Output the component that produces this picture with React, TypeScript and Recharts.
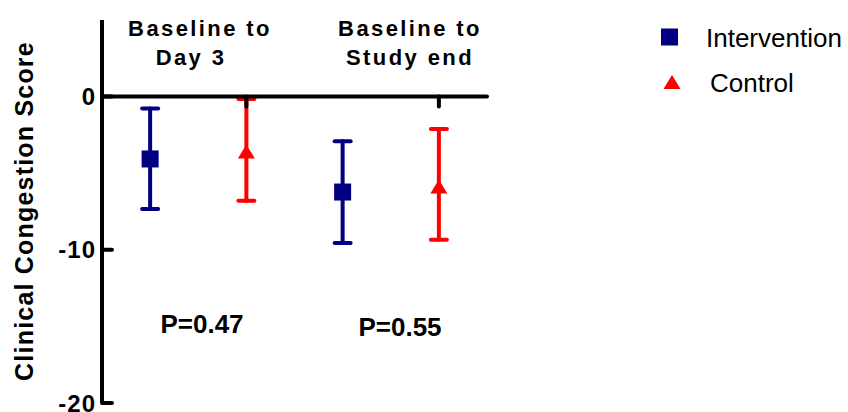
import React from 'react';
import { ScatterChart, Scatter, XAxis, YAxis, ErrorBar, ReferenceLine, Legend } from 'recharts';

const groupTitles = [
  ['Baseline to', 'Day 3'],
  ['Baseline to', 'Study end'],
];
const pValues = ['P=0.47', 'P=0.55'];
const seriesNames = ['Intervention', 'Control'];

// mean and error bar ends
const interventionMean = [-4.07, -6.23];
const interventionLow = [-7.34, -9.56];
const interventionHigh = [-0.78, -2.92];

const controlMean = [-3.58, -5.86];
const controlLow = [-6.8, -9.35];
const controlHigh = [-0.15, -2.11];

const yTicks = [-20, -10, 0];

const FONT = 'Arial, "Liberation Sans", Helvetica, sans-serif';
const NAVY = '#000080';
const RED = '#ff0000';

// each group takes two slots on the x scale: intervention, then control
const toRows = (mean: number[], low: number[], high: number[], slot: number) =>
  mean.map((m, i) => ({ x: i * 2 + slot + 0.5, y: m, err: [m - low[i], high[i] - m] }));

const interventionRows = toRows(interventionMean, interventionLow, interventionHigh, 0);
const controlRows = toRows(controlMean, controlLow, controlHigh, 1);
const axisTickSlots = groupTitles.map((_, i) => i * 2 + 1.5);

const SquareDot = (props: any) => {
  const { cx, cy } = props;
  if (cx == null || cy == null) return null;
  return <rect x={cx - 8.5} y={cy - 8.5} width={17} height={17} fill={NAVY} />;
};

const TriangleDot = (props: any) => {
  const { cx, cy } = props;
  if (cx == null || cy == null) return null;
  return <path d={`M${cx},${cy - 7} L${cx + 8.5},${cy + 7} L${cx - 8.5},${cy + 7} Z`} fill={RED} />;
};

const YTick = (props: any) => {
  const { x, y, payload } = props;
  return (
    <g>
      <text
        x={x}
        y={y}
        dy="0.36em"
        textAnchor="end"
        fontFamily={FONT}
        fontWeight="bold"
        fontSize={24}
        letterSpacing={1}
        fill="#000"
      >
        {payload.value}
      </text>
      <line x1={x + 6} y1={y} x2={x + 16} y2={y} stroke="#000" strokeWidth={4} strokeLinecap="round" />
    </g>
  );
};

const renderLegend = (props: any) => {
  const items = [...(props.payload || [])].sort(
    (a: any, b: any) => seriesNames.indexOf(a.value) - seriesNames.indexOf(b.value)
  );
  return (
    <svg width={208} height={100}>
      {items.map((entry: any, i: number) => {
        const cy = 27 + i * 45;
        const icon =
          entry.type === 'triangle' ? (
            <path d={`M32,${cy - 7} L40.5,${cy + 7} L23.5,${cy + 7} Z`} fill={entry.color} />
          ) : (
            <rect x={21} y={cy - 8.5} width={17} height={17} fill={entry.color} />
          );
        return (
          <g key={entry.value}>
            {icon}
            <text x={i === 0 ? 66 : 70} y={cy + 10} fontFamily={FONT} fontSize={26} fill="#000">
              {entry.value}
            </text>
          </g>
        );
      })}
    </svg>
  );
};

const titleStyle = {
  fontFamily: FONT,
  fontWeight: 'bold' as const,
  fontSize: 22,
  letterSpacing: 2.4,
  fill: '#000',
};

export default function App() {
  return (
    <div style={{ position: 'absolute', left: 0, top: 0, width: 848, height: 412, background: '#fff' }}>
      <ScatterChart width={848} height={412} margin={{ top: 20, right: 361, bottom: 9, left: 0 }}>
        <XAxis type="number" dataKey="x" domain={[0, 4]} hide />
        <YAxis
          type="number"
          dataKey="y"
          domain={[-20, 5]}
          ticks={yTicks}
          width={102}
          axisLine={{ stroke: '#000', strokeWidth: 4 }}
          tickLine={false}
          tickSize={0}
          tickMargin={6}
          tick={<YTick />}
          allowDataOverflow
        />
        <Scatter
          name={seriesNames[0]}
          data={interventionRows}
          fill={NAVY}
          legendType="square"
          shape={<SquareDot />}
          isAnimationActive={false}
        >
          <ErrorBar dataKey="err" direction="y" width={8} stroke={NAVY} strokeWidth={4} strokeLinecap="round" />
        </Scatter>
        <Scatter
          name={seriesNames[1]}
          data={controlRows}
          fill={RED}
          legendType="triangle"
          shape={<TriangleDot />}
          isAnimationActive={false}
        >
          <ErrorBar dataKey="err" direction="y" width={8} stroke={RED} strokeWidth={4} strokeLinecap="round" />
        </Scatter>
        <ReferenceLine y={0} stroke="#000" strokeWidth={4} strokeLinecap="round" />
        {axisTickSlots.map((s) => (
          <ReferenceLine
            key={s}
            segment={[
              { x: s, y: 0 },
              { x: s, y: -0.65 },
            ]}
            stroke="#000"
            strokeWidth={4}
            strokeLinecap="round"
          />
        ))}
        <Legend
          layout="vertical"
          align="center"
          verticalAlign="middle"
          wrapperStyle={{ left: 640, top: 10, width: 208 }}
          content={renderLegend}
        />
        <text
          transform="translate(33,211) rotate(-90)"
          textAnchor="middle"
          fontFamily={FONT}
          fontWeight="bold"
          fontSize={25}
          letterSpacing={1.2}
          fill="#000"
        >
          Clinical Congestion Score
        </text>
        <text x={200} y={36} textAnchor="middle" {...titleStyle}>{groupTitles[0][0]}</text>
        <text x={191} y={65} textAnchor="middle" {...titleStyle}>{groupTitles[0][1]}</text>
        <text x={410} y={36} textAnchor="middle" {...titleStyle}>{groupTitles[1][0]}</text>
        <text x={410} y={65} textAnchor="middle" {...titleStyle}>{groupTitles[1][1]}</text>
        <text x={202} y={333} textAnchor="middle" fontFamily={FONT} fontWeight="bold" fontSize={26} fill="#000">
          {pValues[0]}
        </text>
        <text x={400} y={336} textAnchor="middle" fontFamily={FONT} fontWeight="bold" fontSize={26} fill="#000">
          {pValues[1]}
        </text>
      </ScatterChart>
    </div>
  );
}
